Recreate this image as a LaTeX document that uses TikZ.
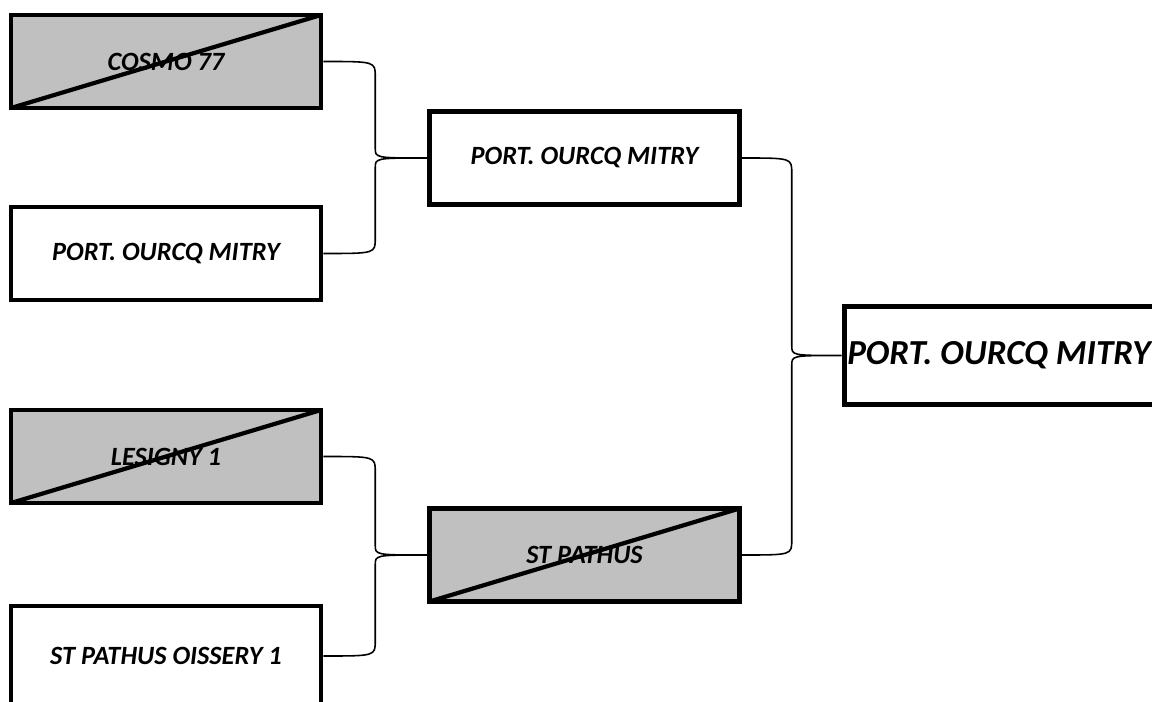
\documentclass[tikz,border=0pt]{standalone}
\usepackage{fontspec}
\setmainfont{Carlito}
\usetikzlibrary{calc}

\definecolor{outgray}{RGB}{192,192,192}

\newcommand{\bracket}[3]{%
  \draw[link] let \p1=(#1.east), \p2=(#2.east), \p3=(#3.west),
      \p4=($(#1.east)!0.5!(#3.west)$) in
    (\p1) .. controls (\x4,\y1) .. (\x4,\y1-0.3cm) -- (\x4,\y3+0.2cm)
      .. controls (\x4,\y3) .. (\p3)
    (\p3) .. controls (\x4,\y3) .. (\x4,\y3-0.2cm) -- (\x4,\y2+0.3cm)
      .. controls (\x4,\y2) .. (\p2);}

\begin{document}
\begin{tikzpicture}[x=0.02cm, y=-0.02cm]
    \tikzset{team/.style={draw, line width=2.8pt, inner sep=0pt,
                 minimum width=6.2cm, minimum height=1.86cm,
                 font=\bfseries\itshape\fontsize{15}{17}\selectfont},
             crossed/.style={team, fill=outgray,
                 path picture={\draw[line width=2.4pt]
                   (path picture bounding box.south west) -- (path picture bounding box.north east);}},
             link/.style={line width=0.9pt}}
    \useasboundingbox (0,0) rectangle (1152,702);
    \clip (0,0) rectangle (1152,702);

    \node[crossed] (cosmo)   at (166, 61.5)  {COSMO 77};
    \node[team]    (mitryA)  at (166, 253.5) {PORT. OURCQ MITRY};
    \node[crossed] (lesigny) at (166, 456.5) {LESIGNY 1};
    \node[team, minimum height=2cm] (oissery) at (166, 656) {ST PATHUS OISSERY 1};

    \node[team]    (mitryB)  at (584.5, 158) {PORT. OURCQ MITRY};
    \node[crossed] (pathus)  at (584.5, 555) {ST PATHUS};

    \node[team, minimum height=1.96cm, font=\bfseries\itshape\fontsize{20}{22}\selectfont]
        (winner) at (999, 355.5) {PORT. OURCQ MITRY};

    \bracket{cosmo}{mitryA}{mitryB}
    \bracket{lesigny}{oissery}{pathus}
    \bracket{mitryB}{pathus}{winner}
\end{tikzpicture}
\end{document}
